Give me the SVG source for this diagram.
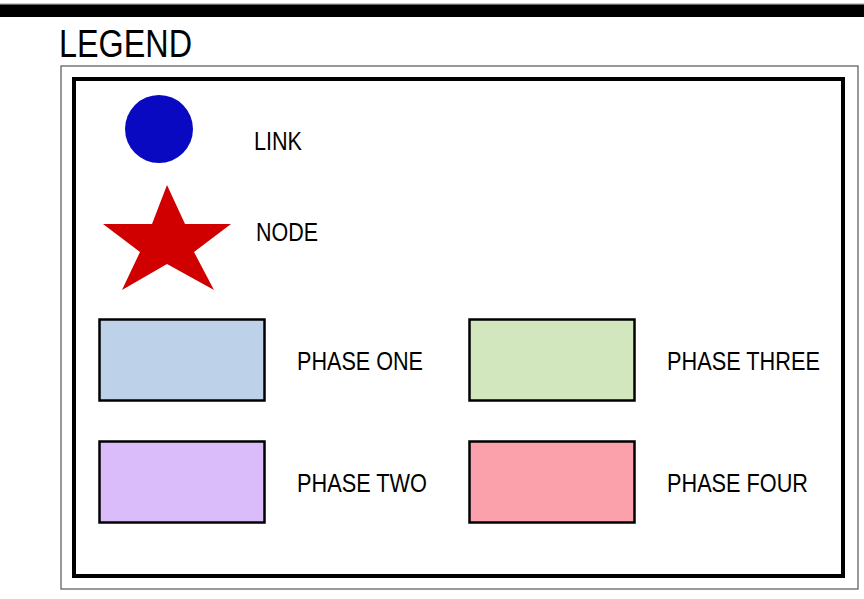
<svg xmlns="http://www.w3.org/2000/svg" width="864" height="599" viewBox="0 0 864 599">
<style>
.lbl{font-family:"Liberation Sans Narrow","Liberation Sans",Arial,sans-serif;font-size:25px;fill:#000}
.sw{stroke:#000;stroke-width:2.5}
</style>
<rect width="864" height="599" fill="#fff"/>
<line x1="0" y1="4" x2="864" y2="4" stroke="#999" stroke-width="1"/>
<rect x="0" y="4.5" width="864" height="12.5" fill="#000"/>
<text x="59" y="57" class="lbl" style="font-size:38px" textLength="133" lengthAdjust="spacingAndGlyphs">LEGEND</text>
<rect x="61" y="66" width="797" height="523" fill="none" stroke="#555" stroke-width="1.2"/>
<rect x="74" y="79" width="769" height="497" fill="#fff" stroke="#000" stroke-width="4"/>
<g id="link">
<circle cx="159" cy="129" r="34" fill="#0909C2"/>
<text x="254" y="150" class="lbl" textLength="48" lengthAdjust="spacingAndGlyphs">LINK</text>
</g>
<g id="node">
<polygon points="167,185 185,224 231,224 194,252 214,290 167,264 122,290 140,252 103,224 152,224" fill="#D00000"/>
<text x="256" y="241" class="lbl" textLength="62" lengthAdjust="spacingAndGlyphs">NODE</text>
</g>
<g id="phase-one">
<rect x="99.5" y="319.5" width="165" height="81" fill="#BDD2E8" class="sw"/>
<text x="297" y="370" class="lbl" textLength="126" lengthAdjust="spacingAndGlyphs">PHASE ONE</text>
</g>
<g id="phase-two">
<rect x="99.5" y="441.5" width="165" height="81" fill="#DBBCFA" class="sw"/>
<text x="297" y="492" class="lbl" textLength="130" lengthAdjust="spacingAndGlyphs">PHASE TWO</text>
</g>
<g id="phase-three">
<rect x="469.5" y="319.5" width="165" height="81" fill="#D3E7BE" class="sw"/>
<text x="667" y="370" class="lbl" textLength="153" lengthAdjust="spacingAndGlyphs">PHASE THREE</text>
</g>
<g id="phase-four">
<rect x="469.5" y="441.5" width="165" height="81" fill="#FBA1AB" class="sw"/>
<text x="667" y="492" class="lbl" textLength="141" lengthAdjust="spacingAndGlyphs">PHASE FOUR</text>
</g>
<g id="connectors"/>
</svg>
